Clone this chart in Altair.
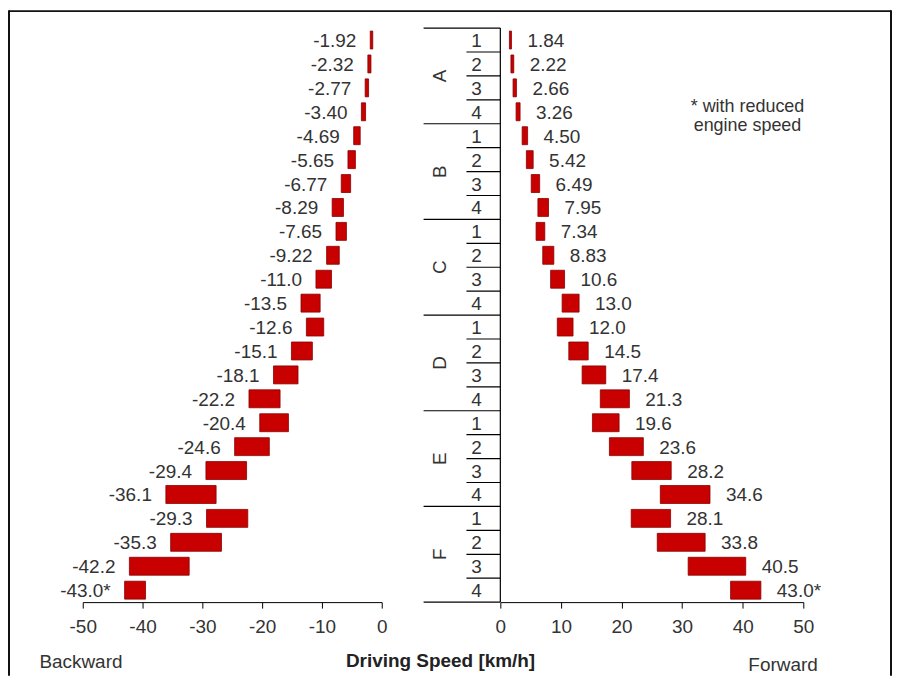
import altair as alt
import pandas as pd

groups = ["A", "B", "C", "D", "E", "F"]
gears = ["1", "2", "3", "4"]

forward_high = [1.84, 2.22, 2.66, 3.26, 4.50, 5.42, 6.49, 7.95,
                7.34, 8.83, 10.6, 13.0, 12.0, 14.5, 17.4, 21.3,
                19.6, 23.6, 28.2, 34.6, 28.1, 33.8, 40.5, 43.0]
forward_low = [1.5, 1.75, 2.1, 2.6, 3.6, 4.3, 5.1, 6.2,
               5.9, 7.0, 8.3, 10.2, 9.4, 11.3, 13.5, 16.5,
               15.2, 18.0, 21.7, 26.4, 21.6, 25.9, 31.0, 38.0]
forward_text = ["1.84", "2.22", "2.66", "3.26", "4.50", "5.42", "6.49", "7.95",
                "7.34", "8.83", "10.6", "13.0", "12.0", "14.5", "17.4", "21.3",
                "19.6", "23.6", "28.2", "34.6", "28.1", "33.8", "40.5", "43.0*"]

backward_high = [-1.92, -2.32, -2.77, -3.40, -4.69, -5.65, -6.77, -8.29,
                 -7.65, -9.22, -11.0, -13.5, -12.6, -15.1, -18.1, -22.2,
                 -20.4, -24.6, -29.4, -36.1, -29.3, -35.3, -42.2, -43.0]
backward_low = [-1.5, -1.8, -2.2, -2.7, -3.6, -4.4, -5.2, -6.4,
                -5.9, -7.1, -8.4, -10.3, -9.7, -11.6, -14.0, -17.0,
                -15.6, -18.8, -22.6, -27.7, -22.4, -26.8, -32.2, -39.5]
backward_text = ["-1.92", "-2.32", "-2.77", "-3.40", "-4.69", "-5.65", "-6.77", "-8.29",
                 "-7.65", "-9.22", "-11.0", "-13.5", "-12.6", "-15.1", "-18.1", "-22.2",
                 "-20.4", "-24.6", "-29.4", "-36.1", "-29.3", "-35.3", "-42.2", "-43.0*"]

note_lines = ["* with reduced", "engine speed"]

FONT = "Liberation Sans"
RED = "#c80000"
TXT = "#333333"
FS = 19

rows = []
for gi, g in enumerate(groups):
    for k, gear in enumerate(gears):
        i = gi * 4 + k
        rows.append(dict(row=i, r0=i + 0.125, r1=i + 0.875, mid=i + 0.5,
                         group=g, gear=gear,
                         f_lo=forward_low[i], f_hi=forward_high[i], f_txt=forward_text[i],
                         b_lo=backward_low[i], b_hi=backward_high[i], b_txt=backward_text[i]))
df = pd.DataFrame(rows)

n = len(df)
gear_sep = pd.DataFrame({"row": [r for r in range(1, n) if r % 4 != 0]})
group_sep = pd.DataFrame({"row": list(range(0, n + 1, 4))})
group_lbl = pd.DataFrame({"group": groups, "gmid": [gi * 4 + 2 for gi in range(len(groups))]})
one = pd.DataFrame({"k": [0]})

W_L, W_R, H = 300, 304, 576
yscale = alt.Scale(domain=[0, n], reverse=True, nice=False, zero=False)

axis_common = dict(labelFont=FONT, labelFontSize=FS, labelColor=TXT, labelFlush=False,
                   labelPadding=9, tickSize=6, tickColor="#000", domainColor="#000",
                   grid=False, titleFont=FONT, titleFontSize=FS, titleFontWeight="normal",
                   titleColor=TXT, titleBaseline="middle")

xl = alt.Scale(domain=[-50, 0], nice=False)
xr = alt.Scale(domain=[0, 50], nice=False)

axis_left = alt.Axis(values=[-50, -40, -30, -20, -10, 0], title="Backward",
                     titleX=-44, titleY=60, titleAlign="left",
                     labelExpr="datum.value == 0 ? '0' : '-' + abs(datum.value)",
                     **axis_common)
axis_right = alt.Axis(values=[0, 10, 20, 30, 40, 50], title="Forward",
                      titleX=318, titleY=63, titleAlign="right", **axis_common)

base = alt.Chart(df)

left_bars = base.mark_bar(color=RED, stroke="#8a0000", strokeWidth=0.8).encode(
    x=alt.X("b_hi:Q", scale=xl, axis=axis_left),
    x2="b_lo:Q",
    y=alt.Y("r0:Q", scale=yscale, axis=None),
    y2="r1:Q",
)
left_text = base.mark_text(align="right", baseline="middle", dx=-14, dy=1,
                           font=FONT, fontSize=FS, color=TXT).encode(
    x=alt.X("b_hi:Q", scale=xl), y=alt.Y("mid:Q", scale=yscale), text="b_txt:N")

border = alt.Chart(one)
b_top = border.mark_rule(color="#111", strokeWidth=2).encode(
    x=alt.value(-74), x2=alt.value(811), y=alt.value(-17))
b_left = border.mark_rule(color="#111", strokeWidth=2).encode(
    x=alt.value(-74), y=alt.value(-18), y2=alt.value(650))
b_right = border.mark_rule(color="#111", strokeWidth=2).encode(
    x=alt.value(811), y=alt.value(-18), y2=alt.value(650))

left = alt.layer(left_bars, left_text, b_top, b_left, b_right).properties(width=W_L, height=H)

right_bars = base.mark_bar(color=RED, stroke="#8a0000", strokeWidth=0.8).encode(
    x=alt.X("f_lo:Q", scale=xr, axis=axis_right),
    x2="f_hi:Q",
    y=alt.Y("r0:Q", scale=yscale, axis=None),
    y2="r1:Q",
)
right_text = base.mark_text(align="left", baseline="middle", dx=16, dy=1,
                            font=FONT, fontSize=FS, color=TXT).encode(
    x=alt.X("f_hi:Q", scale=xr), y=alt.Y("mid:Q", scale=yscale), text="f_txt:N")
gear_text = base.mark_text(align="center", baseline="middle", dy=1,
                           font=FONT, fontSize=FS, color=TXT).encode(
    x=alt.value(-24), y=alt.Y("mid:Q", scale=yscale), text="gear:N")
gear_rules = alt.Chart(gear_sep).mark_rule(color="#000", strokeWidth=1.2).encode(
    x=alt.value(-34), x2=alt.value(0), y=alt.Y("row:Q", scale=yscale))
group_rules = alt.Chart(group_sep).mark_rule(color="#000", strokeWidth=1.2).encode(
    x=alt.value(-77), x2=alt.value(0), y=alt.Y("row:Q", scale=yscale))
vert_rule = alt.Chart(one).mark_rule(color="#000", strokeWidth=1.2).encode(
    x=alt.value(0), y=alt.datum(0, scale=yscale), y2=alt.datum(n))
group_text = alt.Chart(group_lbl).mark_text(align="center", baseline="middle", angle=270,
                                            font=FONT, fontSize=FS, color=TXT).encode(
    x=alt.value(-61), y=alt.Y("gmid:Q", scale=yscale), text="group:N")
note = alt.Chart(one).mark_text(align="center", baseline="middle", font=FONT, fontSize=18,
                                color=TXT, lineHeight=19).encode(
    x=alt.value(248), y=alt.value(79), text=alt.value(note_lines))
title = alt.Chart(one).mark_text(align="center", baseline="middle", font=FONT, fontSize=19,
                                 fontWeight="bold", color="#222").encode(
    x=alt.value(-60), y=alt.value(635), text=alt.value("Driving  Speed [km/h]"))

right = alt.layer(right_bars, right_text, gear_rules, group_rules, vert_rule,
                  gear_text, group_text, note, title).properties(width=W_R, height=H)

chart = alt.hconcat(left, right, spacing=119, bounds="flush").properties(
    padding=0, background="white"
).configure_view(strokeWidth=0)

chart.save("out.html", embed_options={"renderer": "svg", "actions": False})
